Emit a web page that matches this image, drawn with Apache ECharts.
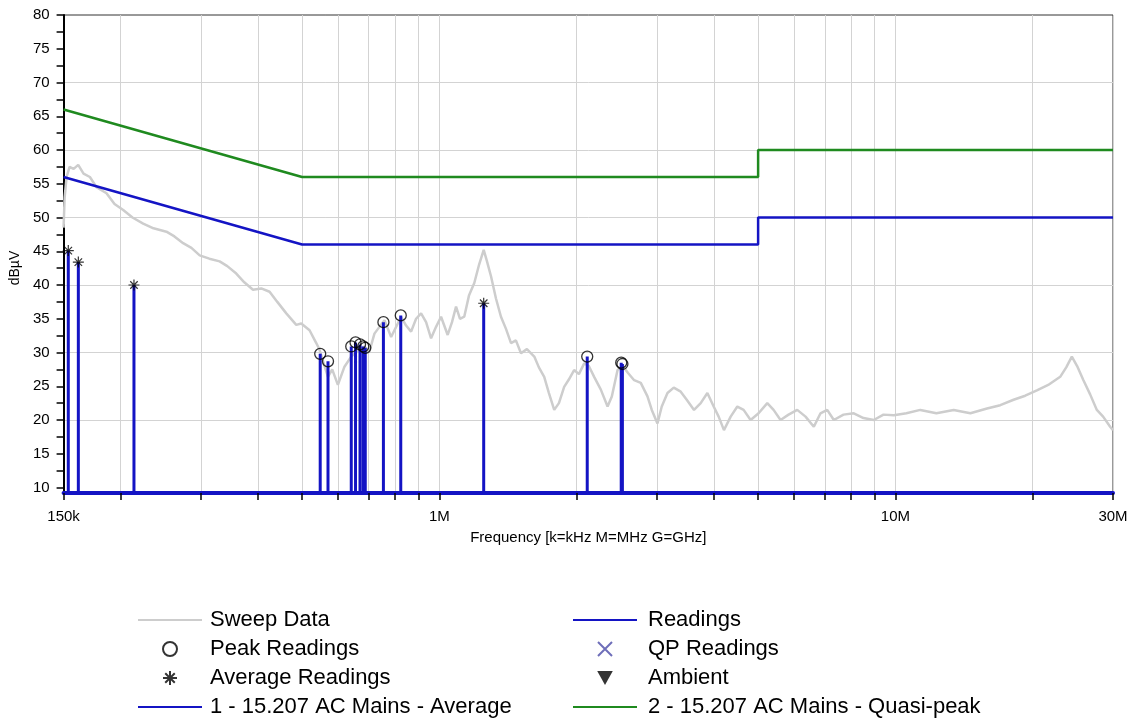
<!DOCTYPE html>
<html>
<head>
<meta charset="utf-8">
<title>Conducted emissions</title>
<script src="https://cdn.jsdelivr.net/npm/echarts@6/dist/echarts.min.js"></script>
<style>
  html, body { margin: 0; padding: 0; background: #fff; }
  #chart { width: 1131px; height: 721px; }
</style>
</head>
<body>
<div id="chart"></div>
<script>
// frequencies are in kHz, levels in dBuV

// sweep trace
var sweepFreq = [150, 150.8, 152.3, 154.6, 157.8, 161.5, 165.9, 171.3, 177.1, 186.3, 194, 202.7, 212.4, 224.2, 236.2, 252.1, 262.5, 274.3, 286, 298.2,
  313.1, 329.8, 342.8, 358.7, 373.5, 390.3, 406.9, 424.4, 441.3, 461.8, 485.6, 498, 519.3, 537.2, 546.2, 569.8, 582.2, 599.2, 619.4, 640.8,
  660.4, 685.1, 701.6, 720.6, 757.9, 784, 824.5, 845.5, 867.1, 889.2, 912, 935.3, 959.1, 983.6, 1008.7, 1043, 1066, 1088, 1110, 1134,
  1162, 1193, 1222, 1251, 1272, 1298, 1331, 1365, 1400, 1436, 1472, 1510, 1556, 1615, 1653, 1698, 1739, 1786, 1829, 1878,
  1923, 1975, 2023, 2078, 2127, 2185, 2260, 2338, 2389, 2459, 2525, 2590, 2674, 2765, 2860, 2923, 3008, 3074, 3164, 3266,
  3383, 3487, 3618, 3742, 3870, 3995, 4097, 4208, 4353, 4502, 4647, 4814, 5012, 5237, 5406, 5600, 5831, 6092, 6353, 6624,
  6851, 7087, 7328, 7695, 8106, 8512, 8966, 9416, 9918, 10570, 11340, 12300, 13420, 14600, 15880, 16980, 18160, 19260, 20430, 21630,
  22980, 23690, 24370, 25030, 25840, 26730, 27650, 28540, 29570, 30000];
var sweepLevel = [48.5, 53, 56, 57.5, 57.2, 57.8, 56.5, 56, 54.5, 53.6, 52, 51.1, 50, 49.1, 48.4, 47.9, 47.2, 46.2, 45.5, 44.4,
  43.9, 43.5, 42.8, 41.7, 40.4, 39.3, 39.5, 39, 37.5, 35.8, 34.1, 34.3, 33.3, 31.4, 30.4, 26.4, 27.5, 25.2, 27.9, 29.4,
  30.2, 30.9, 30, 32.8, 34.8, 32.3, 35.3, 34, 33.1, 35, 35.8, 34.5, 32.1, 33.8, 35.3, 32.6, 34.5, 36.8, 35, 35.3,
  38.5, 40.3, 43, 45.2, 43.5, 41.3, 38, 35.3, 33.5, 31.4, 31.8, 29.9, 30.5, 29.4, 27.8, 26.4, 24, 21.5, 22.5, 24.9,
  26, 27.4, 26.8, 28.4, 28, 26.4, 24.5, 22, 23.5, 27.4, 28, 27, 25.9, 25.5, 23.5, 21.5, 19.5, 22, 24, 24.8,
  24.2, 23, 21.5, 22.5, 24, 22, 20.5, 18.5, 20.5, 22, 21.5, 20, 21, 22.5, 21.5, 20, 20.8, 21.5, 20.5, 19,
  21, 21.5, 20, 20.8, 21, 20.3, 20, 20.8, 20.7, 21, 21.5, 21, 21.5, 21, 21.7, 22.2, 23, 23.6, 24.4, 25.2,
  26.4, 27.8, 29.4, 28, 25.9, 23.8, 21.5, 20.5, 19, 18.5];

// peak readings (circles)
var peakFreq = [548, 570, 641, 655, 670, 681, 688, 754, 823, 2110, 2505, 2520];
var peakLevel = [29.8, 28.7, 30.9, 31.5, 31.2, 30.9, 30.7, 34.5, 35.5, 29.4, 28.5, 28.3];

// average readings (asterisks)
var avgFreq = [153.6, 161.6, 214, 1251];
var avgLevel = [45.1, 43.4, 40.0, 37.3];

// limit lines
var limitFreq = [150, 500, 5000, 5000, 30000];
var avgLimit = [56, 46, 46, 50, 50];
var qpLimit = [66, 56, 56, 60, 60];

// axes
var yMin = 9.19, yMax = 80;
var yLabelValues = [10, 15, 20, 25, 30, 35, 40, 45, 50, 55, 60, 65, 70, 75, 80];
var yTickValues = [10, 12.5, 15, 17.5, 20, 22.5, 25, 27.5, 30, 32.5, 35, 37.5, 40, 42.5, 45, 47.5, 50, 52.5, 55, 57.5, 60, 62.5, 65, 67.5, 70, 72.5, 75, 77.5, 80];
var yGridValues = [20, 30, 40, 50, 60, 70];
var xTickValues = [150, 200, 300, 400, 500, 600, 700, 800, 900, 1000, 2000, 3000, 4000, 5000, 6000, 7000, 8000, 9000, 10000, 20000, 30000];
var xLabelValues = [150, 1000, 10000, 30000];
var xLabelText = ['150k', '1M', '10M', '30M'];

var BLUE = '#1414c4';
var GREEN = '#1f8a1f';
var FONT = "'Liberation Sans', Arial, sans-serif";

function pairs(xs, ys) {
  return xs.map(function (x, i) { return [x, ys[i]]; });
}

// stems: base -> value, broken with '-'
var stemFreq = peakFreq.concat(avgFreq);
var stemLevel = peakLevel.concat(avgLevel);
var stemData = [];
stemFreq.forEach(function (f, i) {
  stemData.push([f, yMin], [f, stemLevel[i]], [f, '-']);
});

var asterisk = 'path://M5,0L5,10M0,5L10,5M1.6,1.6L8.4,8.4M8.4,1.6L1.6,8.4';
var cross = 'path://M0,0L10,10M10,0L0,10';
var downTri = 'path://M0,0L10,0L5,9Z';

// line entries in the legend: hide the dot
function lineItem(name) {
  return { name: name, itemStyle: { opacity: 0 } };
}

var chart = echarts.init(document.getElementById('chart'));

chart.setOption({
  animation: false,
  backgroundColor: '#fff',
  textStyle: { fontFamily: FONT },
  grid: { left: 62, right: 18, top: 15, bottom: 228, show: true, borderColor: '#333', borderWidth: 1 },
  xAxis: {
    type: 'log',
    logBase: 10,
    min: 150,
    max: 30000,
    name: 'Frequency [k=kHz M=MHz G=GHz]',
    nameLocation: 'middle',
    nameGap: 37,
    nameTextStyle: { color: '#000', fontSize: 15, fontFamily: FONT },
    axisLine: { lineStyle: { color: BLUE, width: 4 } },
    axisTick: { length: 7, customValues: xTickValues, lineStyle: { color: '#000', width: 1.5 } },
    axisLabel: {
      customValues: xLabelValues,
      margin: 16,
      color: '#000',
      fontSize: 15,
      formatter: function (v) {
        var i = xLabelValues.indexOf(Math.round(v));
        return i >= 0 ? xLabelText[i] : '';
      }
    },
    splitLine: { show: true, lineStyle: { color: '#d3d3d3', width: 1 } }
  },
  yAxis: [{
    type: 'value',
    min: yMin,
    max: yMax,
    name: 'dBµV',
    nameLocation: 'middle',
    nameGap: 34,
    nameTextStyle: { color: '#000', fontSize: 14, fontFamily: FONT, padding: [0, 28, 0, 0] },
    axisLine: { show: true, lineStyle: { color: '#000', width: 2 } },
    axisTick: { length: 7, customValues: yTickValues, lineStyle: { color: '#000', width: 1.5 } },
    axisLabel: { customValues: yLabelValues, color: '#000', fontSize: 15, margin: 14 },
    splitLine: { show: false }
  }, {
    // gridlines only
    type: 'value',
    position: 'right',
    min: yMin,
    max: yMax,
    axisLine: { show: false },
    axisTick: { show: false, customValues: yGridValues },
    axisLabel: { show: false },
    splitLine: { show: true, lineStyle: { color: '#d3d3d3', width: 1 } }
  }],
  legend: [{
    orient: 'vertical',
    left: 137,
    top: 609,
    padding: 0,
    itemWidth: 64,
    itemHeight: 14,
    itemGap: 7,
    selectedMode: false,
    textStyle: { color: '#000', fontSize: 22, lineHeight: 22, fontFamily: FONT, padding: [0, 0, 0, 3] },
    data: [lineItem('Sweep Data'), 'Peak Readings', 'Average Readings', lineItem('1 - 15.207 AC Mains - Average')]
  }, {
    orient: 'vertical',
    left: 572,
    top: 609,
    padding: 0,
    itemWidth: 64,
    itemHeight: 14,
    itemGap: 7,
    selectedMode: false,
    textStyle: { color: '#000', fontSize: 22, lineHeight: 22, fontFamily: FONT, padding: [0, 0, 0, 6] },
    data: [lineItem('Readings'), 'QP Readings', 'Ambient', lineItem('2 - 15.207 AC Mains - Quasi-peak')]
  }],
  series: [{
    name: 'Sweep Data',
    type: 'line',
    z: 1,
    symbol: 'none',
    lineStyle: { color: '#cdcdcd', width: 2.5 },
    itemStyle: { color: '#cdcdcd' },
    data: pairs(sweepFreq, sweepLevel)
  }, {
    name: '1 - 15.207 AC Mains - Average',
    type: 'line',
    z: 2,
    symbol: 'none',
    lineStyle: { color: BLUE, width: 2.5 },
    itemStyle: { color: BLUE },
    data: pairs(limitFreq, avgLimit)
  }, {
    name: '2 - 15.207 AC Mains - Quasi-peak',
    type: 'line',
    z: 2,
    symbol: 'none',
    lineStyle: { color: GREEN, width: 2.5 },
    itemStyle: { color: GREEN },
    data: pairs(limitFreq, qpLimit)
  }, {
    name: 'Readings',
    type: 'line',
    z: 3,
    symbol: 'none',
    connectNulls: false,
    lineStyle: { color: BLUE, width: 3 },
    itemStyle: { color: BLUE },
    data: stemData
  }, {
    name: 'Peak Readings',
    type: 'scatter',
    z: 4,
    symbol: 'circle',
    symbolSize: 11,
    itemStyle: { color: 'transparent', borderColor: '#000', borderWidth: 1.3 },
    data: pairs(peakFreq, peakLevel)
  }, {
    name: 'Average Readings',
    type: 'scatter',
    z: 4,
    symbol: asterisk,
    symbolSize: 11,
    itemStyle: { color: 'transparent', borderColor: '#000', borderWidth: 1.2 },
    data: pairs(avgFreq, avgLevel)
  }, {
    name: 'QP Readings',
    type: 'scatter',
    z: 4,
    symbol: cross,
    symbolSize: 11,
    itemStyle: { color: 'transparent', borderColor: '#4a4aa8', borderWidth: 1 },
    data: []
  }, {
    name: 'Ambient',
    type: 'scatter',
    z: 4,
    symbol: downTri,
    symbolSize: 12,
    itemStyle: { color: '#000' },
    data: []
  }]
});
</script>
</body>
</html>
